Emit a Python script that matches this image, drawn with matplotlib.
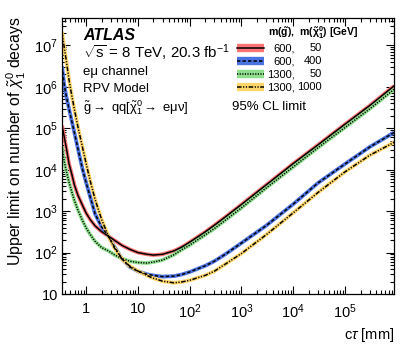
import math
import matplotlib
matplotlib.use("Agg")
import matplotlib.pyplot as plt
from matplotlib.ticker import LogLocator, FuncFormatter, NullFormatter
from matplotlib.lines import Line2D

plt.rcParams['font.family'] = ['Liberation Sans', 'DejaVu Sans']
plt.rcParams['mathtext.fontset'] = 'custom'
plt.rcParams['mathtext.rm'] = 'Liberation Sans'
plt.rcParams['mathtext.it'] = 'Liberation Sans:italic'
plt.rcParams['mathtext.bf'] = 'Liberation Sans:bold'

# ---- data ----
ctau = [0.344, 0.38, 0.42, 0.47, 0.53, 0.6, 0.7, 0.85, 1.0, 1.2, 1.5, 2.0, 2.7, 3.5,
        5.0, 7.0, 10, 15, 20, 30, 50, 70, 100, 200, 300, 500, 1e3, 3e3, 1e4, 3e4,
        1e5, 3e5, 8.8e5]
lim_600_50 = [1.17e5, 6.2e4, 3.2e4, 1.4e4, 7.9e3, 4.2e3, 2.4e3, 1.4e3, 910, 630, 440,
              320, 250, 200, 148, 120, 100, 91, 87, 91, 110, 135, 178, 316, 457, 741,
              1450, 4300, 1.41e4, 3.98e4, 1.26e5, 3.55e5, 1.05e6]
lim_600_400 = [3.16e6, 1.12e6, 5.6e5, 2.95e5, 1.51e5, 7.6e4, 3.16e4, 1.07e4, 5.0e3,
               2.24e3, 850, 417, 251, 141, 69, 45, 35.5, 30, 28, 26.3, 27, 29.5, 34,
               48, 62, 93, 170, 447, 1480, 4790, 1.38e4, 3.55e4, 7.9e4]
lim_1300_50 = [3.7e4, 1.58e4, 8.9e3, 5.0e3, 2.95e3, 1.78e3, 1.05e3, 600, 400, 275, 186,
               132, 110, 89, 71, 62, 57.5, 56, 59, 66, 89, 117, 151, 269, 380, 617,
               1200, 3630, 1.17e4, 3.4e4, 1.05e5, 2.95e5, 8.7e5]
lim_1300_1000 = [2.1e7, 8.9e6, 4.0e6, 1.48e6, 6.3e5, 2.75e5, 1.07e5, 3.6e4, 1.45e4,
                 5.5e3, 1.9e3, 630, 251, 132, 69, 47, 36, 28, 24, 20.4, 18.6, 19.5,
                 21.4, 28.2, 35.5, 53.7, 95, 269, 912, 2820, 8900, 2.24e4, 4.57e4]

legend_m1 = ["600,", "600,", "1300,", "1300,"]
legend_m2 = ["50", "400", "50", "1000"]

series = [
    (lim_600_50, '#ff7474', dict(linestyle='-')),
    (lim_600_400, '#4a72e0', dict(linestyle=(0, (2.2, 1.4)))),
    (lim_1300_50, '#8ee08e', dict(linestyle=(0, (0.8, 0.9)))),
    (lim_1300_1000, '#ffd66a', dict(linestyle=(0, (3, 1, 0.8, 1, 0.8, 1)))),
]

fig = plt.figure(figsize=(4.15, 3.51), dpi=100)
ax = fig.add_axes([62/415, 1-294/351, 332/415, 276/351])

for vals, col, ls in series:
    ax.plot(ctau, vals, color=col, lw=2.7, solid_capstyle='butt', zorder=2)
for vals, col, ls in series:
    ax.plot(ctau, vals, color='black', lw=1.1, zorder=3, **ls)

ax.set_xscale('log')
ax.set_yscale('log')
ax.set_xlim(0.344, 8.8e5)
ax.set_ylim(10, 4.6e7)


def fmt(v, pos):
    e = int(round(math.log10(v)))
    if e == 0:
        return '1'
    if e == 1:
        return '10'
    return r'$\mathregular{10^{%d}}$' % e


ax.xaxis.set_major_locator(LogLocator(base=10, numticks=20))
ax.yaxis.set_major_locator(LogLocator(base=10, numticks=20))
ax.xaxis.set_minor_locator(LogLocator(base=10, subs=range(2, 10), numticks=20))
ax.yaxis.set_minor_locator(LogLocator(base=10, subs=range(2, 10), numticks=20))
ax.xaxis.set_major_formatter(FuncFormatter(fmt))
ax.yaxis.set_major_formatter(FuncFormatter(fmt))
ax.xaxis.set_minor_formatter(NullFormatter())
ax.yaxis.set_minor_formatter(NullFormatter())
ax.tick_params(which='both', direction='in', top=True, right=True, labelsize=10.5,
               width=0.8)
ax.tick_params(which='major', length=6)
ax.tick_params(which='minor', length=3)
ax.tick_params(axis='x', pad=6)
ax.tick_params(axis='y', pad=3)
for s in ax.spines.values():
    s.set_linewidth(0.9)

ax.set_xlabel(r'c$\tau$ [mm]', fontsize=10.5, loc='right', labelpad=4)
fig.text(16/415, 1-141.5/351, r'Upper limit on number of $\tilde{\chi}_1^0$ decays',
         fontsize=11.4, rotation=90, ha='center', va='center')

# ATLAS label block
tx = 0.063
ax.text(tx, 0.935, 'ATLAS', transform=ax.transAxes, fontsize=11.5, fontweight='bold',
        fontstyle='italic', va='center')
ax.text(tx, 0.873, r'$\mathregular{\sqrt{s}}$ = 8 TeV, 20.3 fb$^{\mathregular{-1}}$',
        transform=ax.transAxes, fontsize=10.8, va='center')
ax.text(tx, 0.806, 'e\u03bc channel', transform=ax.transAxes, fontsize=9.5, va='center')
ax.text(tx, 0.741, 'RPV Model', transform=ax.transAxes, fontsize=9.4, va='center')
ax.text(tx, 0.674,
        r'$\mathregular{\tilde{g}}\rightarrow$ qq[$\mathregular{\tilde{\chi}_1^0}\rightarrow$ '
        + 'e\u03bc\u03bd]',
        transform=ax.transAxes, fontsize=9.4, va='center')

# legend (manual, in axes fraction)
ax.text(0.62, 0.946, r'm($\mathregular{\tilde{g}}$),  m($\mathregular{\tilde{\chi}_1^0}$) [GeV]',
        transform=ax.transAxes, fontsize=7.6, fontweight='bold', ha='left', va='center')
rows = [0.891, 0.844, 0.797, 0.750]
for (vals, col, ls), yy, a, b in zip(series, rows, legend_m1, legend_m2):
    ax.add_line(Line2D([0.528, 0.607], [yy, yy], transform=ax.transAxes, color=col,
                       lw=6, solid_capstyle='butt'))
    ax.add_line(Line2D([0.528, 0.607], [yy, yy], transform=ax.transAxes, color='black',
                       lw=1.1, **ls))
    ax.text(0.700, yy, a, transform=ax.transAxes, fontsize=8, ha='right', va='center')
    ax.text(0.783, yy, b, transform=ax.transAxes, fontsize=8, ha='right', va='center')
ax.text(0.512, 0.678, '95% CL limit', transform=ax.transAxes, fontsize=9.5, va='center')

fig.savefig('out.png', dpi=100)
